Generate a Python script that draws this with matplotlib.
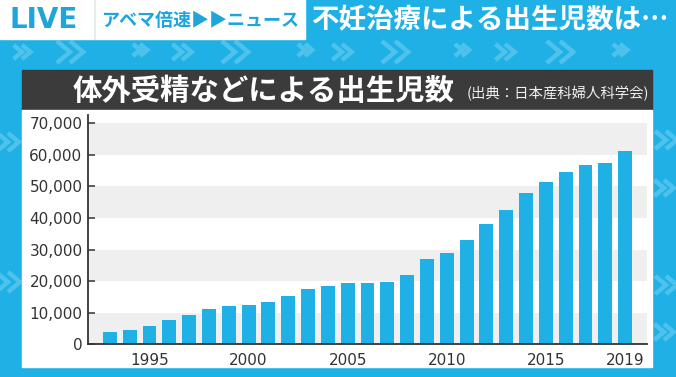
import numpy as np
import matplotlib.pyplot as plt
from matplotlib.patches import Rectangle

plt.rcParams['font.family'] = ['Noto Sans CJK JP', 'DejaVu Sans']

# data
years = np.arange(1993, 2020)
births = [3900, 4650, 5900, 7600, 9400, 11180, 12030, 12450, 13300, 15200,
          17420, 18560, 19320, 19510, 19830, 22050, 27020, 29020, 32940, 38010,
          42640, 47830, 51410, 54480, 56700, 57430, 61130]
xticks = [1995, 2000, 2005, 2010, 2015, 2019]
yticks = [0, 10000, 20000, 30000, 40000, 50000, 60000, 70000]
header = '不妊治療による出生児数は…'
title = '体外受精などによる出生児数'
source = '(出典：日本産科婦人科学会)'

W, H = 676, 377
blue = '#1fb1e6'
barblue = '#1fb0e6'
txtblue = '#1ea5dc'

fig = plt.figure(figsize=(W / 100, H / 100), dpi=100)
fig.patch.set_facecolor(blue)

# background layer in pixel coords
bg = fig.add_axes([0, 0, 1, 1])
bg.set_xlim(0, W)
bg.set_ylim(H, 0)
bg.axis('off')

# faint chevrons
chev = [(22, 52, 7), (70, 52, 11), (140, 50, 6), (182, 52, 8), (235, 52, 11),
        (305, 50, 6), (342, 52, 8), (395, 52, 11), (462, 50, 6), (505, 52, 8),
        (560, 52, 11), (620, 50, 6), (8, 142, 9), (8, 282, 10),
        (666, 140, 9), (664, 188, 8), (666, 285, 9), (664, 332, 8)]
for cx, cy, s in chev:
    for dx in (-s * 0.6, s * 0.6):
        bg.plot([cx + dx - s * 0.6, cx + dx + s * 0.6, cx + dx - s * 0.6],
                [cy - s, cy, cy + s], color='#8ad7f3', lw=3.2, alpha=0.45,
                solid_capstyle='butt', solid_joinstyle='miter')

# header
bg.add_patch(Rectangle((0, 0), 305, 39, color='white'))
bg.plot([95, 95], [0, 39], color='#dfe9ee', lw=1.2)
bg.text(10, 20, 'LIVE', color=txtblue, fontsize=20, fontweight='bold',
        family='DejaVu Sans', va='center', ha='left')
bg.text(102, 20, 'アベマ倍速▶▶ニュース', color=txtblue, fontsize=13,
        fontweight='bold', va='center', ha='left')
bg.text(311, 20, header, color='white', fontsize=19.8, fontweight='bold',
        va='center', ha='left')

# title bar and white panel
bg.add_patch(Rectangle((22, 70), 630, 40, color='#3b3b3b'))
bg.add_patch(Rectangle((22, 110), 630, 257, color='white'))
bg.text(73, 91, title, color='white', fontsize=21.2, fontweight='bold',
        va='center', ha='left')
bg.text(467, 94, source, color='#f0f0f0', fontsize=10.4, va='center', ha='left')

# chart
ax = fig.add_axes([88 / W, (H - 344.3) / H, (647 - 88) / W, (344.3 - 115) / H])
ax.set_facecolor('white')
for lo in range(0, 70000, 20000):
    ax.axhspan(lo, lo + 10000, color='#efefef', lw=0, zorder=0)
ax.bar(years, births, width=0.7, color=barblue, zorder=2)
ax.set_xlim(1991.9, 2020.1)
ax.set_ylim(0, 72600)
ax.set_yticks(yticks)
ax.set_yticklabels([f'{v:,}' for v in yticks], family='DejaVu Sans',
                   fontsize=11, color='#333333')
ax.set_xticks(xticks)
ax.set_xticklabels([str(v) for v in xticks], family='DejaVu Sans',
                   fontsize=11, color='#333333')
ax.tick_params(axis='y', direction='in', length=5, width=1.1, color='#333333', pad=4)
ax.tick_params(axis='x', length=0, pad=6)
for s in ('top', 'right'):
    ax.spines[s].set_visible(False)
for s in ('left', 'bottom'):
    ax.spines[s].set_color('#333333')
    ax.spines[s].set_linewidth(1.3)

plt.savefig('out.png', dpi=100, facecolor=fig.get_facecolor())
